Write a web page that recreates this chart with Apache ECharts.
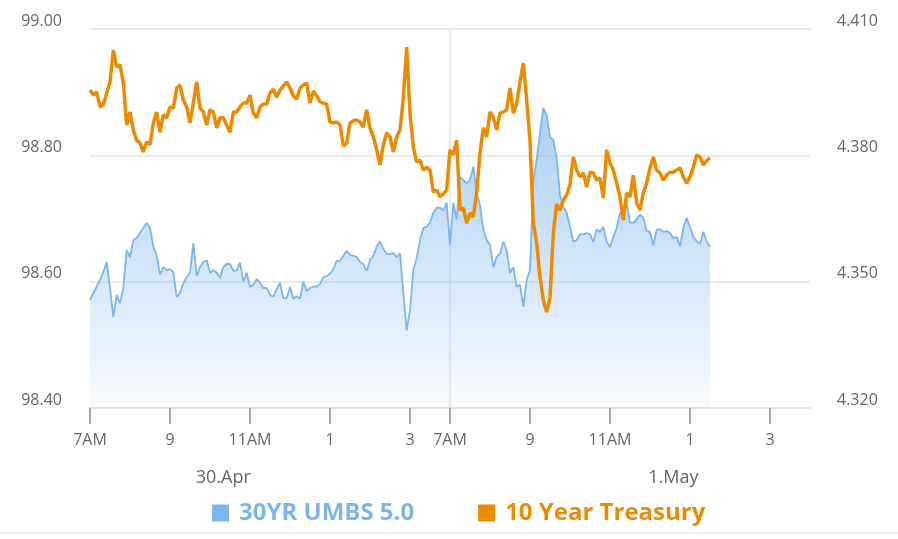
<!DOCTYPE html>
<html>
<head>
<meta charset="utf-8">
<title>30YR UMBS 5.0 vs 10 Year Treasury</title>
<script src="https://cdn.jsdelivr.net/npm/echarts@6/dist/echarts.min.js"></script>
<style>
  html, body { margin: 0; padding: 0; background: #fff; }
  #chart { width: 898px; height: 539px; }
</style>
</head>
<body>
<div id="chart"></div>
<script>
// trading days shown on the ordinal time axis (overnight gap removed)
const days = ['30.Apr', '1.May'];

// tick marks along the bottom axis
const tickSlots = ['30.Apr 07:00', '30.Apr 09:00', '30.Apr 11:00', '30.Apr 13:00', '30.Apr 15:00',
  '1.May 07:00', '1.May 09:00', '1.May 11:00', '1.May 13:00', '1.May 15:00'];
const tickLabels = ['7AM', '9', '11AM', '1', '3', '7AM', '9', '11AM', '1', '3'];

// day captions under the time labels
const daySlots = ['30.Apr 10:20', '1.May 12:35'];
const dayLabels = ['30.Apr', '1.May'];

// 5-minute readings, 30.Apr 07:00 .. 15:55 then 1.May 07:00 .. 13:30
const umbs = [
  98.571, 98.582, 98.592, 98.603, 98.615, 98.631, 98.590, 98.544, 98.579, 98.566,
  98.590, 98.650, 98.639, 98.666, 98.669, 98.677, 98.685, 98.693, 98.685, 98.655,
  98.642, 98.611, 98.623, 98.618, 98.620, 98.615, 98.576, 98.582, 98.598, 98.607,
  98.614, 98.661, 98.609, 98.623, 98.631, 98.634, 98.614, 98.618, 98.614, 98.606,
  98.623, 98.628, 98.628, 98.617, 98.618, 98.630, 98.600, 98.614, 98.592, 98.595,
  98.604, 98.598, 98.590, 98.590, 98.579, 98.576, 98.588, 98.598, 98.574, 98.574,
  98.592, 98.573, 98.577, 98.573, 98.600, 98.585, 98.590, 98.592, 98.592, 98.596,
  98.607, 98.609, 98.612, 98.620, 98.633, 98.633, 98.641, 98.649, 98.642, 98.641,
  98.639, 98.631, 98.628, 98.617, 98.634, 98.641, 98.655, 98.664, 98.652, 98.644,
  98.644, 98.645, 98.639, 98.645, 98.582, 98.523, 98.555, 98.618, 98.637, 98.666,
  98.685, 98.687, 98.694, 98.709, 98.717, 98.717, 98.713, 98.725,
  98.658, 98.725, 98.698, 98.766, 98.761, 98.756, 98.761, 98.782, 98.740, 98.721,
  98.682, 98.666, 98.658, 98.623, 98.639, 98.645, 98.663, 98.650, 98.614, 98.623,
  98.592, 98.595, 98.560, 98.603, 98.618, 98.761, 98.793, 98.835, 98.875, 98.864,
  98.829, 98.824, 98.796, 98.737, 98.718, 98.709, 98.687, 98.663, 98.666, 98.675,
  98.675, 98.677, 98.675, 98.663, 98.683, 98.679, 98.687, 98.663, 98.655, 98.671,
  98.685, 98.709, 98.701, 98.726, 98.694, 98.693, 98.699, 98.706, 98.701, 98.680,
  98.679, 98.658, 98.682, 98.683, 98.679, 98.680, 98.677, 98.669, 98.671, 98.656,
  98.685, 98.701, 98.687, 98.671, 98.664, 98.660, 98.679, 98.664, 98.655
];

const treasury = [
  4.3955, 4.3943, 4.3950, 4.3915, 4.3920, 4.3948, 4.3974, 4.4050, 4.4010, 4.4015,
  4.3972, 4.3872, 4.3903, 4.3860, 4.3836, 4.3829, 4.3808, 4.3832, 4.3825, 4.3877,
  4.3903, 4.3855, 4.3896, 4.3889, 4.3915, 4.3912, 4.3960, 4.3967, 4.3931, 4.3915,
  4.3877, 4.3924, 4.3974, 4.3912, 4.3903, 4.3872, 4.3908, 4.3903, 4.3865, 4.3889,
  4.3889, 4.3872, 4.3855, 4.3903, 4.3903, 4.3915, 4.3924, 4.3924, 4.3943, 4.3900,
  4.3889, 4.3915, 4.3922, 4.3922, 4.3948, 4.3957, 4.3938, 4.3955, 4.3965, 4.3974,
  4.3960, 4.3941, 4.3934, 4.3960, 4.3967, 4.3972, 4.3924, 4.3953, 4.3941, 4.3927,
  4.3924, 4.3922, 4.3879, 4.3877, 4.3879, 4.3872, 4.3822, 4.3829, 4.3877, 4.3882,
  4.3884, 4.3879, 4.3867, 4.3908, 4.3865, 4.3844, 4.3813, 4.3777, 4.3825, 4.3853,
  4.3844, 4.3808, 4.3844, 4.3860, 4.3936, 4.4057, 4.3900, 4.3820, 4.3784, 4.3789,
  4.3765, 4.3772, 4.3765, 4.3713, 4.3718, 4.3701, 4.3708, 4.3718,
  4.3813, 4.3801, 4.3836, 4.3670, 4.3675, 4.3639, 4.3663, 4.3654, 4.3711, 4.3806,
  4.3865, 4.3844, 4.3903, 4.3891, 4.3860, 4.3900, 4.3903, 4.3908, 4.3960, 4.3900,
  4.3924, 4.3974, 4.4019, 4.3931, 4.3836, 4.3639, 4.3592, 4.3511, 4.3456, 4.3428,
  4.3461, 4.3616, 4.3684, 4.3670, 4.3694, 4.3706, 4.3730, 4.3796, 4.3765, 4.3749,
  4.3758, 4.3725, 4.3760, 4.3758, 4.3741, 4.3746, 4.3699, 4.3813, 4.3782, 4.3765,
  4.3734, 4.3701, 4.3646, 4.3711, 4.3701, 4.3753, 4.3687, 4.3670, 4.3711, 4.3734,
  4.3770, 4.3796, 4.3765, 4.3758, 4.3741, 4.3753, 4.3760, 4.3760, 4.3765, 4.3770,
  4.3749, 4.3734, 4.3749, 4.3772, 4.3801, 4.3796, 4.3777, 4.3787, 4.3794
];

// build the ordinal slot list: 7:00..15:55 on the first day, 7:00..16:00 on the second
const pad = (n) => String(n).padStart(2, '0');
const slots = [];
days.forEach((day, d) => {
  const count = d === 0 ? 108 : 109;
  for (let i = 0; i < count; i++) {
    const min = 7 * 60 + i * 5;
    slots.push(`${day} ${pad(Math.floor(min / 60))}:${pad(min % 60)}`);
  }
});

const isTick = (i, v) => tickSlots.includes(v);
const labelFont = { color: '#666666', fontFamily: 'Open Sans', fontSize: 16 };
const gridColor = '#ebebeb';

const chart = echarts.init(document.getElementById('chart'));

chart.setOption({
  animation: false,
  grid: { left: 90, right: 88, top: 29, bottom: 131 },
  legend: {
    left: 212,
    top: 501,
    padding: 0,
    icon: 'rect',
    itemWidth: 17,
    itemHeight: 17,
    itemGap: 64,
    itemStyle: { borderWidth: 0 },
    textStyle: { fontFamily: 'Open Sans', fontSize: 24, fontWeight: 'bold', padding: [0, 0, 0, 5] },
    data: [
      { name: '30YR UMBS 5.0', textStyle: { color: '#7cb5ec' } },
      { name: '10 Year Treasury', textStyle: { color: '#ed8b00' } },
    ],
  },
  xAxis: [
    {
      type: 'category',
      data: slots,
      boundaryGap: false,
      position: 'bottom',
      axisLine: { lineStyle: { color: '#e3e3e3', width: 2 } },
      axisTick: { interval: isTick, length: 16, lineStyle: { color: '#a8a8a8', width: 2 } },
      axisLabel: {
        ...labelFont,
        interval: isTick,
        margin: 24,
        formatter: (v) => tickLabels[tickSlots.indexOf(v)],
      },
      splitLine: {
        show: true,
        interval: (i, v) => v === '1.May 07:00',
        lineStyle: { color: gridColor, width: 2 },
      },
    },
    {
      type: 'category',
      data: slots,
      boundaryGap: false,
      position: 'bottom',
      axisLine: { show: false },
      axisTick: { show: false },
      splitLine: { show: false },
      axisLabel: {
        color: '#666666',
        fontFamily: 'Open Sans',
        fontSize: 18,
        margin: 61,
        interval: (i, v) => daySlots.includes(v),
        formatter: (v) => dayLabels[daySlots.indexOf(v)],
      },
    },
  ],
  yAxis: [
    {
      type: 'value',
      position: 'left',
      min: 98.4,
      max: 99.0,
      interval: 0.2,
      axisLine: { show: false },
      axisTick: { show: false },
      axisLabel: { ...labelFont, margin: 28, verticalAlign: 'bottom', formatter: (v) => v.toFixed(2) },
      splitLine: { lineStyle: { color: gridColor, width: 2 } },
    },
    {
      type: 'value',
      position: 'right',
      min: 4.32,
      max: 4.41,
      interval: 0.03,
      axisLine: { show: false },
      axisTick: { show: false },
      axisLabel: { ...labelFont, margin: 27, verticalAlign: 'bottom', formatter: (v) => v.toFixed(3) },
      splitLine: { show: false },
    },
  ],
  series: [
    {
      name: '30YR UMBS 5.0',
      type: 'line',
      xAxisIndex: 0,
      yAxisIndex: 0,
      data: umbs,
      symbol: 'none',
      lineStyle: { color: '#7cb5ec', width: 1.8 },
      itemStyle: { color: '#7cb5ec' },
      areaStyle: {
        color: new echarts.graphic.LinearGradient(0, 0, 0, 1, [
          { offset: 0, color: 'rgba(124,181,236,0.92)' },
          { offset: 1, color: 'rgba(124,181,236,0.07)' },
        ]),
      },
    },
    {
      name: '10 Year Treasury',
      type: 'line',
      xAxisIndex: 0,
      yAxisIndex: 1,
      data: treasury,
      symbol: 'none',
      lineStyle: { color: '#ed8b00', width: 3.5 },
      itemStyle: { color: '#ed8b00' },
    },
  ],
  graphic: [
    {
      type: 'line',
      shape: { x1: 0, y1: 533, x2: 898, y2: 533 },
      style: { stroke: '#e6e6e6', lineWidth: 1 },
    },
  ],
});
</script>
</body>
</html>
